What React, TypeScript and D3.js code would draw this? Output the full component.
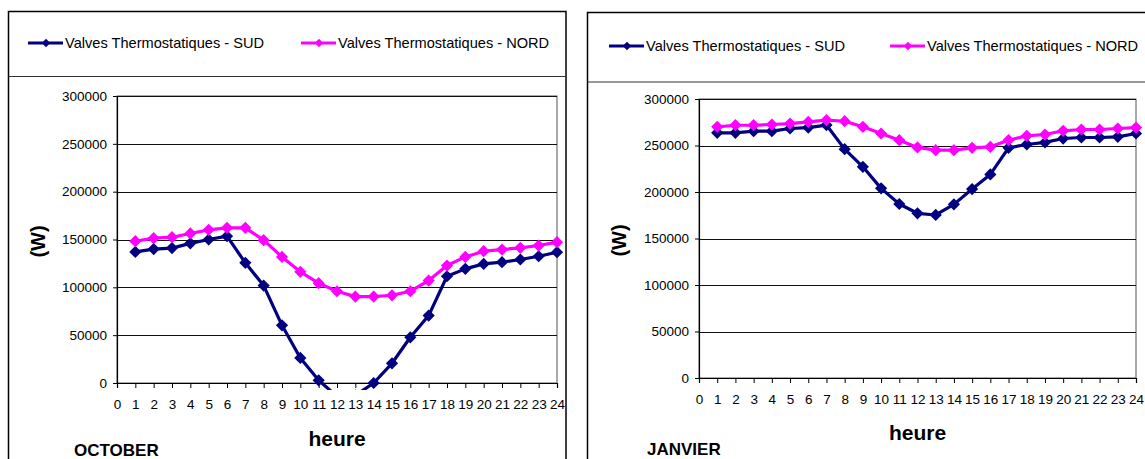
import * as d3 from "d3";
import { useEffect, useRef } from "react";

// hours of the day (x categories)
const hours = [1, 2, 3, 4, 5, 6, 7, 8, 9, 10, 11, 12, 13, 14, 15, 16, 17, 18, 19, 20, 21, 22, 23, 24];
const xTicks = [0, 1, 2, 3, 4, 5, 6, 7, 8, 9, 10, 11, 12, 13, 14, 15, 16, 17, 18, 19, 20, 21, 22, 23, 24];
const yTicks = [0, 50000, 100000, 150000, 200000, 250000, 300000];

const seriesNames = ["Valves Thermostatiques - SUD", "Valves Thermostatiques - NORD"];
const seriesColors = ["#000080", "#ff00ff"];

// OCTOBER
const octSud = [137000, 140000, 141000, 146000, 150000, 153500, 125600, 101800, 60300, 26200, 2800, -14000, -13000, 0, 20600, 47800, 70500, 111600, 119300, 124500, 126300, 129100, 132500, 136700];
const octNord = [148200, 151400, 152400, 156300, 160100, 162200, 162200, 149300, 131800, 116200, 104300, 95900, 90300, 90300, 91700, 95900, 107100, 122800, 131800, 137800, 139500, 141300, 143700, 147200];

// JANVIER
const janSud = [263600, 263600, 265400, 265400, 268300, 269300, 272000, 246100, 227100, 203900, 187100, 177100, 175300, 186700, 203200, 218900, 247500, 251100, 253300, 257500, 258600, 258600, 259300, 262900];
const janNord = [270100, 271800, 271800, 272600, 273600, 275400, 277200, 276100, 270100, 262900, 255700, 247900, 245000, 245000, 247500, 248600, 255700, 260400, 261800, 265800, 267200, 267200, 268300, 269300];

const FONT = "Arial, 'Liberation Sans', sans-serif";

type Panel = {
  id: string;
  title: string;
  sud: number[];
  nord: number[];
  frame: { x: number; y: number; w: number; legendBottom: number };
  plot: { left: number; right: number; top: number; bottom: number };
  legendY: number;
  legendX: [number, number];
  wX: number;
  heureY: number;
  titleY: number;
  titleX: number;
};

const panels: Panel[] = [
  {
    id: "oct",
    title: "OCTOBER",
    sud: octSud,
    nord: octNord,
    frame: { x: 8.5, y: 11.5, w: 557.5, legendBottom: 76.5 },
    plot: { left: 117, right: 557, top: 96, bottom: 383 },
    legendY: 43,
    legendX: [28, 301],
    wX: 38,
    heureY: 446,
    titleY: 456,
    titleX: 74,
  },
  {
    id: "jan",
    title: "JANVIER",
    sud: janSud,
    nord: janNord,
    frame: { x: 587.5, y: 12.5, w: 600, legendBottom: 82 },
    plot: { left: 699, right: 1136, top: 99, bottom: 378 },
    legendY: 46,
    legendX: [609, 890],
    wX: 619,
    heureY: 440,
    titleY: 455,
    titleX: 647,
  },
];

const diamond = d3.symbol().type(d3.symbolDiamond2).size(95);

function drawPanel(root: d3.Selection<SVGSVGElement, unknown, null, undefined>, p: Panel) {
  const g = root.append("g");
  const { plot } = p;

  // outer frame + legend box
  g.append("rect")
    .attr("x", p.frame.x)
    .attr("y", p.frame.y)
    .attr("width", p.frame.w)
    .attr("height", 500)
    .attr("fill", "#fff")
    .attr("stroke", "#000")
    .attr("stroke-width", 1.5);
  g.append("line")
    .attr("x1", p.frame.x)
    .attr("x2", p.frame.x + p.frame.w)
    .attr("y1", p.frame.legendBottom)
    .attr("y2", p.frame.legendBottom)
    .attr("stroke", "#333")
    .attr("stroke-width", 1);

  // legend
  [p.sud, p.nord].forEach((_, i) => {
    const x0 = p.legendX[i];
    g.append("line")
      .attr("x1", x0)
      .attr("x2", x0 + 35)
      .attr("y1", p.legendY)
      .attr("y2", p.legendY)
      .attr("stroke", seriesColors[i])
      .attr("stroke-width", 3);
    g.append("path")
      .attr("d", d3.symbol().type(d3.symbolDiamond2).size(45)())
      .attr("transform", `translate(${x0 + 18},${p.legendY})`)
      .attr("fill", seriesColors[i]);
    g.append("text")
      .attr("x", x0 + 37)
      .attr("y", p.legendY + 5)
      .attr("font-family", FONT)
      .attr("font-size", 14.6)
      .attr("fill", "#000")
      .text(seriesNames[i]);
  });

  const x = d3.scaleLinear().domain([0, 24]).range([plot.left, plot.right]);
  const y = d3.scaleLinear().domain([0, 300000]).range([plot.bottom, plot.top]);

  // plot area
  g.append("rect")
    .attr("x", plot.left)
    .attr("y", plot.top)
    .attr("width", plot.right - plot.left)
    .attr("height", plot.bottom - plot.top)
    .attr("fill", "#fff")
    .attr("stroke", "#555")
    .attr("stroke-width", 1);

  g.append("g")
    .selectAll("line")
    .data(yTicks.filter((t) => t > 0))
    .join("line")
    .attr("x1", plot.left)
    .attr("x2", plot.right)
    .attr("y1", (d) => Math.round(y(d)) + 0.5)
    .attr("y2", (d) => Math.round(y(d)) + 0.5)
    .attr("stroke", "#111")
    .attr("stroke-width", 1);

  const yAxis = g
    .append("g")
    .attr("transform", `translate(${plot.left},0)`)
    .call(d3.axisLeft(y).tickValues(yTicks).tickSize(4).tickPadding(6).tickFormat((d) => String(d)));
  const xAxis = g
    .append("g")
    .attr("transform", `translate(0,${plot.bottom})`)
    .call(d3.axisBottom(x).tickValues(xTicks).tickSize(5).tickPadding(11).tickFormat((d) => String(d)));

  [yAxis, xAxis].forEach((ax) => {
    ax.select(".domain").attr("stroke", "#000").attr("stroke-width", 1.2);
    ax.selectAll(".tick line").attr("stroke", "#000");
    ax.selectAll("text")
      .attr("font-family", FONT)
      .attr("font-size", 13.5)
      .attr("fill", "#000");
  });

  // axis titles
  g.append("text")
    .attr("transform", `translate(${p.wX + 7},${(plot.top + plot.bottom) / 2 + 2}) rotate(-90)`)
    .attr("text-anchor", "middle")
    .attr("font-family", FONT)
    .attr("font-weight", "bold")
    .attr("font-size", 20)
    .text("(W)");
  g.append("text")
    .attr("x", (plot.left + plot.right) / 2)
    .attr("y", p.heureY)
    .attr("text-anchor", "middle")
    .attr("font-family", FONT)
    .attr("font-weight", "bold")
    .attr("font-size", 21)
    .text("heure");
  g.append("text")
    .attr("x", p.titleX)
    .attr("y", p.titleY)
    .attr("font-family", FONT)
    .attr("font-weight", "bold")
    .attr("font-size", 17)
    .text(p.title);

  // series, clipped just below the zero line like the original
  const clipId = `clip-${p.id}`;
  g.append("clipPath")
    .attr("id", clipId)
    .append("rect")
    .attr("x", plot.left - 12)
    .attr("y", plot.top - 12)
    .attr("width", plot.right - plot.left + 24)
    .attr("height", plot.bottom - plot.top + 19);

  const line = d3
    .line<number>()
    .x((_, i) => x(hours[i]))
    .y((d) => y(d));

  const series = g.append("g").attr("clip-path", `url(#${clipId})`);
  [p.sud, p.nord].forEach((vals, i) => {
    series
      .append("path")
      .datum(vals)
      .attr("fill", "none")
      .attr("stroke", seriesColors[i])
      .attr("stroke-width", 3.2)
      .attr("stroke-linejoin", "round")
      .attr("d", line);
    series
      .append("g")
      .selectAll("path")
      .data(vals)
      .join("path")
      .attr("d", diamond())
      .attr("transform", (d, j) => `translate(${x(hours[j])},${y(d)})`)
      .attr("fill", seriesColors[i]);
  });
}

const App = () => {
  const svgRef = useRef<SVGSVGElement>(null);

  useEffect(() => {
    const svg = d3.select(svgRef.current!);
    svg.selectAll("*").remove();
    svg.append("rect").attr("width", 1145).attr("height", 459).attr("fill", "#fff");
    panels.forEach((p) => drawPanel(svg, p));
  }, []);

  return (
    <svg
      ref={svgRef}
      width={1145}
      height={459}
      style={{ position: "absolute", left: 0, top: 0 }}
    />
  );
};

export default App;
